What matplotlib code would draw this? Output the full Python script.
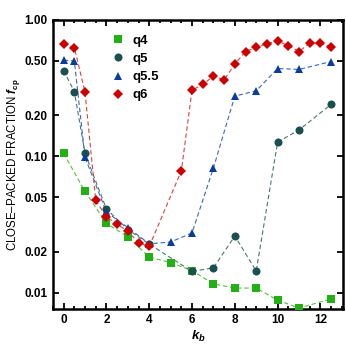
import numpy as np
import matplotlib
matplotlib.use("Agg")
import matplotlib.pyplot as plt
from matplotlib.ticker import FixedLocator, MultipleLocator, NullLocator

plt.rcParams['font.family'] = ['Liberation Sans', 'DejaVu Sans']
plt.rcParams['font.weight'] = 'bold'
plt.rcParams['mathtext.fontset'] = 'custom'
plt.rcParams['mathtext.it'] = 'Liberation Sans:italic:bold'
plt.rcParams['mathtext.rm'] = 'Liberation Sans:bold'

# data
x_q4 = [0, 1, 2, 3, 4, 5, 6, 7, 8, 9, 10, 11, 12.5]
y_q4 = [0.105, 0.0552, 0.0322, 0.0257, 0.0182, 0.0166, 0.0145, 0.0116, 0.0108, 0.0108, 0.0088, 0.0077, 0.0090]

x_q5 = [0, 0.5, 1, 2, 3, 4, 6, 7, 8, 9, 10, 11, 12.5]
y_q5 = [0.425, 0.298, 0.105, 0.041, 0.029, 0.0227, 0.0143, 0.0152, 0.026, 0.0144, 0.127, 0.156, 0.24]

x_q55 = [0, 0.5, 1, 2, 3, 4, 5, 6, 7, 8, 9, 10, 11, 12.5]
y_q55 = [0.506, 0.50, 0.098, 0.039, 0.030, 0.0228, 0.0235, 0.0274, 0.082, 0.276, 0.302, 0.44, 0.433, 0.495]

x_q6 = [0, 0.5, 1, 1.5, 2, 2.5, 3, 3.5, 4, 5.5, 6, 6.5, 7, 7.5, 8, 8.5, 9, 9.5, 10, 10.5, 11, 11.5, 12, 12.5]
y_q6 = [0.671, 0.627, 0.295, 0.0475, 0.0358, 0.0318, 0.0281, 0.0233, 0.0218, 0.078, 0.305, 0.336, 0.387, 0.363,
        0.474, 0.586, 0.631, 0.667, 0.70, 0.648, 0.586, 0.675, 0.675, 0.634]

yticks = [0.01, 0.02, 0.05, 0.10, 0.20, 0.50, 1.00]
ytick_labels = ["0.01", "0.02", "0.05", "0.10", "0.20", "0.50", "1.00"]

series = [
    ("q4", x_q4, y_q4, "s", "#22b014", "#55c040", 5.3),
    ("q5", x_q5, y_q5, "o", "#1c4f50", "#4a7576", 5.8),
    ("q5.5", x_q55, y_q55, "^", "#0a3c9c", "#3a66c0", 6.3),
    ("q6", x_q6, y_q6, "D", "#cc0000", "#e04040", 5.6),
]

fig = plt.figure(figsize=(3.46, 3.49), dpi=100)
ax = fig.add_axes([0.153, 0.115, 0.838, 0.828])

for name, xs, ys, mk, col, lcol, ms in series:
    ax.plot(xs, ys, linestyle=(0, (4, 2.5)), color=lcol, linewidth=0.8, zorder=2)
    ax.plot(xs, ys, linestyle="none", marker=mk, color=col, markersize=ms,
            markeredgewidth=0, label=name, zorder=3)

ax.set_yscale("log")
ax.set_ylim(0.0076, 1.0)
ax.set_xlim(-0.5, 13.05)
ax.yaxis.set_major_locator(FixedLocator(yticks))
ax.set_yticklabels(ytick_labels)
ax.yaxis.set_minor_locator(NullLocator())
ax.xaxis.set_major_locator(MultipleLocator(2))
ax.xaxis.set_minor_locator(MultipleLocator(0.5))

ax.tick_params(which="both", direction="in", top=True, right=True, labelsize=8.5, width=1.3)
ax.tick_params(which="major", length=4, pad=4)
ax.tick_params(which="minor", length=2.5)
for sp in ax.spines.values():
    sp.set_linewidth(1.8)
for lab in ax.get_xticklabels() + ax.get_yticklabels():
    lab.set_fontweight("bold")

ax.set_xlabel(r"$k_b$", fontsize=9.5, labelpad=2)
ax.set_ylabel(r"CLOSE–PACKED FRACTION $f_{\mathrm{cp}}$", fontsize=8.3, labelpad=1.5)

ax.legend(loc="upper left", bbox_to_anchor=(0.16, 0.99), frameon=False,
          prop={"weight": "bold", "size": 9.5}, handletextpad=0.6, labelspacing=0.45,
          handlelength=1.0)

fig.savefig("out.png", dpi=100)
